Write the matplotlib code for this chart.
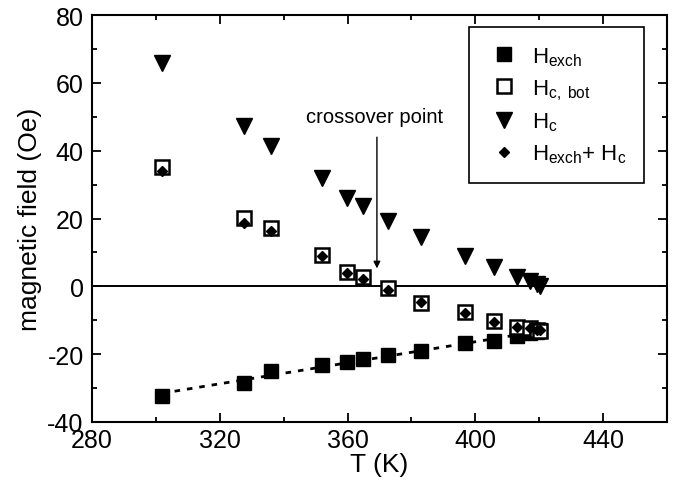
import matplotlib
matplotlib.use("Agg")
import matplotlib.pyplot as plt
import numpy as np
from matplotlib.ticker import MultipleLocator

plt.rcParams["font.family"] = ["Liberation Sans", "DejaVu Sans"]
plt.rcParams["mathtext.fontset"] = "custom"
plt.rcParams["mathtext.rm"] = "Liberation Sans"
plt.rcParams["mathtext.it"] = "Liberation Sans"
plt.rcParams["axes.unicode_minus"] = False

# temperatures (K)
T = [302, 327.5, 336, 352, 359.7, 364.9, 372.7, 382.9, 396.8, 405.9, 413, 417, 419.3, 420.4]

# exchange bias field
h_exch = [-32.2, -28.6, -25.1, -23.2, -22.2, -21.4, -20.3, -19.2, -16.8, -16.1, -14.6, -13.8, -13.4, -13.0]
# coercivity of bottom layer
h_c_bot = [35.1, 20.1, 17.2, 9.2, 4.3, 2.8, -0.6, -4.8, -7.7, -10.2, -12.1, -12.4, -12.8, -13.1]
# coercivity
h_c = [65.8, 47.3, 41.4, 32.1, 26.2, 23.7, 19.3, 14.5, 8.9, 5.7, 2.7, 1.6, 0.6, 0.0]
# sum
h_sum = [34.0, 18.8, 16.4, 8.9, 4.0, 2.3, -1.0, -4.7, -7.9, -10.4, -11.9, -12.2, -12.8, -13.0]

fig = plt.figure(figsize=(6.73, 4.89), dpi=100)
ax = fig.add_axes([0.1367, 0.135, 0.8543, 0.832])

ax.axhline(0, color="black", lw=1.4, zorder=1)

# linear fit of exchange field
coef = np.polyfit(T, h_exch, 1)
tt = np.array([T[0], 422.7])
ax.plot(tt, np.polyval(coef, tt), color="black", ls=(0, (2, 2.5)), lw=2, zorder=2)

ax.plot(T, h_exch, "s", color="black", ms=10.5, zorder=3, label=r"H$_{\rm exch}$")
ax.plot(T, h_c_bot, "s", mfc="white", mec="black", mew=1.8, ms=10.5, zorder=3,
        label=r"H$_{\rm c,\ bot}$")
ax.plot(T, h_c, "v", color="black", ms=12, zorder=3, label=r"H$_{\rm c}$")
ax.plot(T, h_sum, "D", color="black", ms=5, zorder=4,
        label=r"H$_{\rm exch}$+ H$_{\rm c}$")

ax.annotate("", xy=(369.2, 5.3), xytext=(369.2, 44),
            arrowprops=dict(arrowstyle="-|>", color="black", lw=1,
                            mutation_scale=10, shrinkA=0, shrinkB=0))
ax.text(368.5, 50, "crossover point", ha="center", va="center", fontsize=14.5)

ax.set_xlim(280, 460)
ax.set_ylim(-40, 80)
ax.xaxis.set_major_locator(MultipleLocator(40))
ax.xaxis.set_minor_locator(MultipleLocator(20))
ax.yaxis.set_major_locator(MultipleLocator(20))
ax.yaxis.set_minor_locator(MultipleLocator(10))
ax.tick_params(which="both", direction="in", top=True, right=True, width=1.3,
               labelsize=18)
ax.tick_params(which="major", length=6.5)
ax.tick_params(which="minor", length=3.5)
ax.tick_params(axis="x", pad=4)
ax.tick_params(axis="y", pad=6)
for s in ax.spines.values():
    s.set_linewidth(1.5)

ax.set_xlabel("T (K)", fontsize=19, labelpad=0)
ax.set_ylabel("magnetic field (Oe)", fontsize=19, labelpad=4)

leg = ax.legend(loc="upper right", bbox_to_anchor=(0.96, 0.97), borderaxespad=0,
                fancybox=False, edgecolor="black", framealpha=1, fontsize=16,
                handletextpad=0.5, labelspacing=0.42, borderpad=0.8,
                handlelength=1.5, markerscale=1.0)
leg.get_frame().set_linewidth(1.2)

fig.savefig("out.png", dpi=100)
